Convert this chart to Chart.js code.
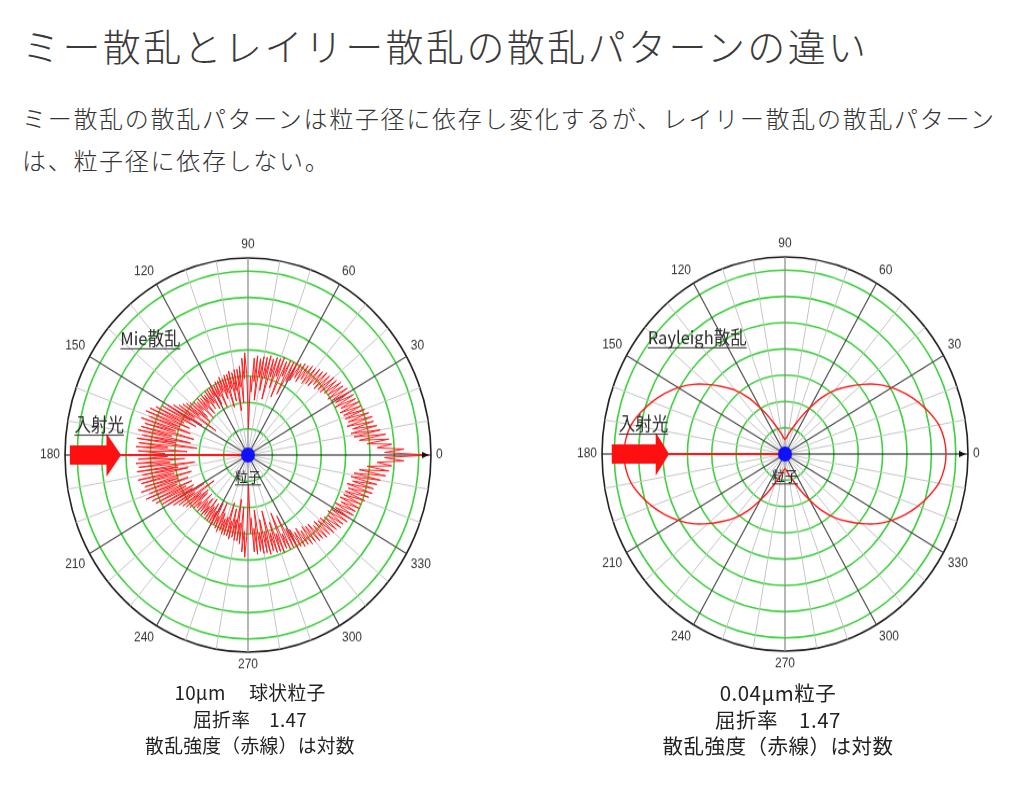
<!DOCTYPE html>
<html lang="ja">
<head>
<meta charset="utf-8">
<title>ミー散乱とレイリー散乱の散乱パターンの違い</title>
<script src="https://cdn.jsdelivr.net/npm/chart.js@4.4.1/dist/chart.umd.min.js"></script>
<style>
    html, body { margin: 0; padding: 0; background: #fff; }
    body { width: 1024px; height: 788px; position: relative; overflow: hidden; font-family: "Noto Sans CJK JP", sans-serif; color: #333; }
    h1 { position: absolute; left: 22px; top: 26px; margin: 0; font-size: 38px; line-height: 38px; font-weight: 300; letter-spacing: 2.4px; white-space: nowrap; color: #3a3a3a; }
    .lead { position: absolute; left: 22px; top: 97px; margin: 0; font-size: 24px; line-height: 42px; font-weight: 300; letter-spacing: 1.7px; white-space: nowrap; color: #333; }
    .plot { position: absolute; width: 416px; height: 416px; transform: scaleY(1.077); }
    .cap { position: absolute; top: 679px; width: 320px; text-align: center; font-size: 18.8px; line-height: 26.5px; letter-spacing: 0.3px; color: #222; white-space: nowrap; }
    .cap.big { font-size: 20.5px; letter-spacing: 0.5px; }
</style>
</head>
<body>
<h1>ミー散乱とレイリー散乱の散乱パターンの違い</h1>
<p class="lead">ミー散乱の散乱パターンは粒子径に依存し変化するが、レイリー散乱の散乱パターン<br>は、粒子径に依存しない。</p>

<div class="plot" style="left:34px; top:247px;"><canvas id="mieChart" width="416" height="416"></canvas></div>
<div class="plot" style="left:571px; top:246px;"><canvas id="rayChart" width="416" height="416"></canvas></div>

<div class="cap" style="left:90px;">10μm　 球状粒子<br>屈折率　1.47<br>散乱強度（赤線）は対数</div>
<div class="cap big" style="left:618px;">0.04μm粒子<br>屈折率　1.47<br>散乱強度（赤線）は対数</div>

<script>
// angle labels shown round the plots (degrees, counter-clockwise from the right)
const tickAngles = [0, 30, 60, 90, 120, 150, 180, 210, 240, 270, 300, 330];
const radiusMax = 7.5;   // outer black circle, log intensity units
const mieStep = 1;       // degrees between Mie samples
const rayStep = 5;       // degrees between Rayleigh samples

// Mie, 10um sphere: log intensity at 0,1,2 ... 359 deg
const mieIntensity = [
    7.4, 5.6, 6.4, 5.3, 5.9, 4.9, 5.8, 4.6, 5.7, 4.4,
    5.5, 4.3, 5.4, 4.4, 5.3, 4.2, 5.3, 4.3, 5.2, 4.2,
    5.1, 4.2, 5.0, 4.1, 5.0, 4.2, 4.9, 4.0, 4.9, 4.1,
    4.8, 4.0, 4.8, 3.9, 4.7, 4.0, 4.7, 3.9, 4.6, 3.8,
    4.6, 3.8, 4.5, 3.7, 4.5, 3.8, 4.4, 3.6, 4.4, 3.6,
    4.3, 3.5, 4.3, 3.6, 4.2, 3.4, 4.2, 3.5, 4.1, 3.3,
    4.1, 3.2, 4.0, 2.6, 4.0, 3.3, 3.9, 2.4, 4.0, 3.2,
    3.9, 2.7, 3.9, 3.1, 3.8, 2.2, 3.9, 3.0, 3.8, 2.5,
    3.8, 3.0, 3.7, 2.1, 3.8, 2.8, 3.7, 2.4, 3.0, 1.0,
    1.8, 3.1, 3.9, 2.9, 3.7, 2.0, 3.4, 2.6, 3.3, 1.7,
    3.3, 2.5, 3.2, 2.1, 3.3, 2.6, 3.2, 1.9, 3.2, 2.5,
    3.1, 2.3, 3.2, 2.6, 3.1, 2.0, 3.1, 2.5, 3.0, 2.2,
    3.1, 2.6, 3.0, 2.1, 3.0, 2.4, 3.0, 2.2, 2.9, 2.5,
    3.0, 2.1, 2.9, 2.4, 3.0, 2.0, 2.9, 2.5, 3.0, 2.2,
    3.1, 2.0, 3.2, 2.5, 3.3, 1.6, 3.4, 2.6, 3.6, 2.2,
    3.8, 2.7, 4.0, 2.4, 4.2, 2.9, 4.4, 2.6, 4.5, 3.0,
    4.3, 2.5, 4.6, 3.1, 4.4, 2.3, 4.5, 3.2, 4.6, 2.4,
    4.4, 3.0, 4.6, 2.1, 4.5, 3.3, 4.6, 2.5, 4.5, 3.4,
    4.6, 3.3, 4.5, 2.6, 4.6, 3.2, 4.5, 2.2, 4.6, 2.9,
    4.4, 2.5, 4.6, 3.1, 4.5, 2.4, 4.4, 3.0, 4.6, 2.6,
    4.3, 3.1, 4.5, 2.5, 4.3, 2.8, 4.2, 2.5, 4.0, 2.6,
    3.8, 2.1, 3.6, 2.6, 3.4, 1.7, 3.3, 2.4, 3.2, 2.1,
    3.1, 2.2, 3.0, 2.6, 2.9, 2.1, 3.0, 2.4, 2.9, 2.2,
    3.0, 2.5, 2.9, 2.1, 3.0, 2.4, 3.0, 2.2, 3.0, 2.5,
    3.1, 2.1, 3.0, 2.6, 3.1, 2.0, 3.2, 2.4, 3.1, 2.6,
    3.2, 2.5, 3.2, 1.9, 3.2, 2.6, 3.3, 2.1, 3.2, 2.5,
    3.3, 1.7, 3.3, 2.6, 3.4, 2.0, 3.7, 2.9, 3.9, 3.1,
    1.8, 1.1, 3.0, 2.4, 3.7, 2.8, 3.8, 2.1, 3.7, 3.0,
    3.8, 2.5, 3.8, 3.0, 3.9, 2.2, 3.8, 3.1, 3.9, 2.7,
    3.9, 3.2, 4.0, 2.4, 3.9, 3.3, 4.0, 2.6, 4.0, 3.2,
    4.1, 3.3, 4.1, 3.5, 4.2, 3.4, 4.2, 3.6, 4.3, 3.5,
    4.3, 3.6, 4.4, 3.6, 4.4, 3.8, 4.5, 3.7, 4.5, 3.8,
    4.6, 3.8, 4.6, 3.9, 4.7, 4.0, 4.7, 3.9, 4.8, 4.0,
    4.8, 4.1, 4.9, 4.0, 4.9, 4.2, 5.0, 4.1, 5.0, 4.2,
    5.1, 4.2, 5.2, 4.3, 5.3, 4.2, 5.3, 4.4, 5.4, 4.3,
    5.5, 4.4, 5.7, 4.6, 5.8, 4.9, 5.9, 5.3, 6.4, 5.6
];

// Rayleigh, 0.04um particle: log intensity at 0,5,10 ... 355 deg
const rayIntensity = [
    6.60, 6.55, 6.40, 6.12, 5.80, 5.45, 5.05, 4.62, 4.12, 3.62,
    3.16, 2.62, 2.02, 1.55, 1.18, 0.93, 0.75, 0.62, 0.55, 0.62,
    0.75, 0.93, 1.18, 1.55, 2.02, 2.62, 3.16, 3.62, 4.12, 4.62,
    5.05, 5.45, 5.80, 6.12, 6.40, 6.55, 6.60, 6.55, 6.40, 6.12,
    5.80, 5.45, 5.05, 4.62, 4.12, 3.62, 3.16, 2.62, 2.02, 1.55,
    1.18, 0.93, 0.75, 0.62, 0.55, 0.62, 0.75, 0.93, 1.18, 1.55,
    2.02, 2.62, 3.16, 3.62, 4.12, 4.62, 5.05, 5.45, 5.80, 6.12,
    6.40, 6.55
];

// the radial scale runs clockwise from its start angle, so walk the angles backwards
function clockwise(values, step) {
    const n = values.length;
    return {
        labels: values.map((v, i) => (360 - i * step) % 360),
        data: values.map((v, i) => values[(n - i) % n])
    };
}

// arrow, beam, particle and the little captions inside the plot
const polarOverlay = {
    id: 'polarOverlay',
    afterDatasetsDraw(chart, args, o) {
        const s = chart.scales.r;
        const ctx = chart.ctx;
        const cx = s.xCenter, cy = s.yCenter;
        const d = v => s.getDistanceFromCenterForValue(v);

        ctx.save();
        // incident beam
        ctx.strokeStyle = '#ff1a1a';
        ctx.lineWidth = 2;
        ctx.beginPath();
        ctx.moveTo(cx - d(o.tip), cy);
        ctx.lineTo(cx, cy);
        ctx.stroke();

        ctx.fillStyle = '#ff1010';
        ctx.beginPath();
        ctx.moveTo(cx - d(o.tail), cy - d(0.37));
        ctx.lineTo(cx - d(o.neck), cy - d(0.37));
        ctx.lineTo(cx - d(o.neck), cy - d(0.82));
        ctx.lineTo(cx - d(o.tip), cy);
        ctx.lineTo(cx - d(o.neck), cy + d(0.82));
        ctx.lineTo(cx - d(o.neck), cy + d(0.37));
        ctx.lineTo(cx - d(o.tail), cy + d(0.37));
        ctx.closePath();
        ctx.fill();

        // arrow head on the 0 deg axis
        const ax = cx + d(radiusMax) - 2;
        ctx.fillStyle = '#111';
        ctx.beginPath();
        ctx.moveTo(ax, cy);
        ctx.lineTo(ax - 7, cy - 3);
        ctx.lineTo(ax - 7, cy + 3);
        ctx.closePath();
        ctx.fill();

        // particle
        ctx.fillStyle = '#1010ff';
        ctx.beginPath();
        ctx.arc(cx, cy, 7, 0, Math.PI * 2);
        ctx.fill();

        // underlined captions
        ctx.fillStyle = '#2a2a2a';
        ctx.strokeStyle = '#2a2a2a';
        ctx.lineWidth = 1;
        ctx.textAlign = 'center';
        ctx.textBaseline = 'middle';
        o.notes.forEach(n => {
            ctx.font = n.size + 'px "Noto Sans CJK JP"';
            const x = cx + d(n.x), y = cy + d(n.y);
            ctx.fillText(n.text, x, y);
            const w = ctx.measureText(n.text).width;
            ctx.beginPath();
            ctx.moveTo(x - w / 2, y + n.size * 0.6);
            ctx.lineTo(x + w / 2, y + n.size * 0.6);
            ctx.stroke();
        });
        ctx.restore();
    }
};

function spokeColor(angle) {
    if (angle % 180 === 0) return '#111';
    if (angle % 90 === 0) return '#888';
    if (angle % 30 === 0) return '#4a4a4a';
    return '#c4c4c4';
}

function polarChart(id, values, step, overlay) {
    const series = clockwise(values, step);
    const angleAt = i => series.labels[i];
    return new Chart(document.getElementById(id), {
        type: 'radar',
        data: {
            labels: series.labels,
            datasets: [{
                data: series.data,
                borderColor: '#ff1a1a',
                borderWidth: step === 1 ? 1 : 1.4,
                tension: step === 1 ? 0 : 0.2,
                pointRadius: 0,
                fill: false
            }]
        },
        options: {
            responsive: false,
            animation: false,
            events: [],
            scales: {
                r: {
                    min: 0,
                    max: radiusMax,
                    startAngle: 90,
                    ticks: { display: false, stepSize: 1 },
                    grid: {
                        circular: true,
                        color: c => c.tick && c.tick.value === radiusMax ? '#222' : '#3fd03f',
                        lineWidth: 1.6
                    },
                    angleLines: {
                        color: c => spokeColor(angleAt(c.index)),
                        lineWidth: c => {
                            const a = angleAt(c.index);
                            if (a % 10 !== 0) return 0;
                            return a % 30 === 0 ? 1.2 : 1;
                        }
                    },
                    pointLabels: {
                        color: '#333',
                        padding: 5,
                        font: { family: 'Liberation Sans', size: 12 },
                        callback: a => (tickAngles.includes(a) ? String(a) : '')
                    }
                }
            },
            plugins: {
                legend: { display: false },
                tooltip: { enabled: false },
                polarOverlay: overlay
            }
        },
        plugins: [polarOverlay]
    });
}

document.addEventListener('DOMContentLoaded', () => {
    polarChart('mieChart', mieIntensity, mieStep, {
        tail: 7.3, neck: 5.8, tip: 5.2,
        notes: [
            { text: '入射光', x: -6.1, y: -1.16, size: 16.5 },
            { text: 'Mie散乱', x: -4.0, y: -4.45, size: 16.5 },
            { text: '粒子', x: 0, y: 0.82, size: 13 }
        ]
    });
    polarChart('rayChart', rayIntensity, rayStep, {
        tail: 7.1, neck: 5.3, tip: 4.75,
        notes: [
            { text: '入射光', x: -5.8, y: -1.16, size: 16.5 },
            { text: 'Rayleigh散乱', x: -3.6, y: -4.45, size: 16.5 },
            { text: '粒子', x: 0, y: 0.82, size: 13 }
        ]
    });
});
</script>
</body>
</html>
